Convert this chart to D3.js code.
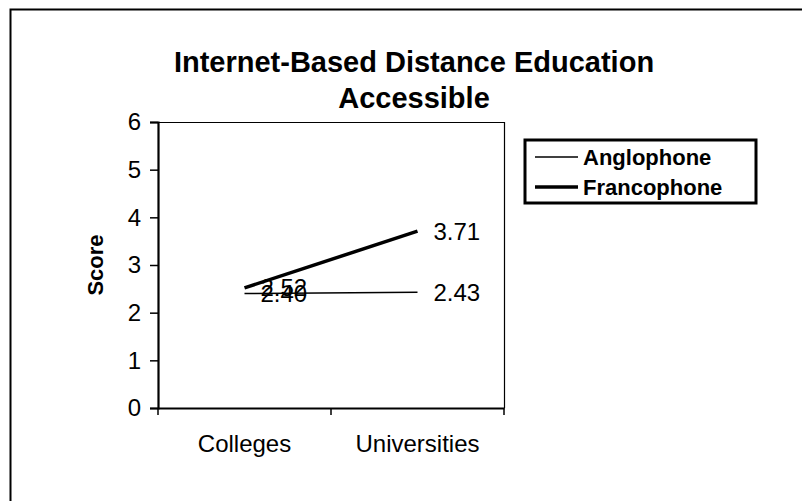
<!DOCTYPE html>
<html><head><meta charset="utf-8">
<script src="https://cdn.jsdelivr.net/npm/d3@7"></script>
<style>body{margin:0;background:#fff}svg{display:block;font-family:"Liberation Sans",Arial,sans-serif}</style>
</head><body>
<svg id="c" width="802" height="501"></svg>
<script>
const categories = ["Colleges", "Universities"];
const seriesNames = ["Anglophone", "Francophone"];
const anglophone = [2.40, 2.43];
const francophone = [2.52, 3.71];
const yTicks = [0, 1, 2, 3, 4, 5, 6];
const labelsA = ["2.40", "2.43"];
const labelsF = ["2.52", "3.71"];

const svg = d3.select("#c");
const L = 158, R = 504, T = 122, B = 408;

// outer border
svg.append("path").attr("d", `M10.5,505 V9.5 H810`).attr("fill","none").attr("stroke","#000").attr("stroke-width",2);

const x = d3.scaleBand().domain(categories).range([L, R]);
const y = d3.scaleLinear().domain([0, 6]).range([B, T]);

// plot frame top/right
svg.append("path").attr("d", `M${L},${T+0.5} H${R+0.5} V${B}`).attr("fill","none").attr("stroke","#000").attr("stroke-width",1.2);

// y axis
const ya = svg.append("g").attr("transform", `translate(${L},0)`)
  .call(d3.axisLeft(y).tickValues(yTicks).tickSize(8).tickPadding(9).tickFormat(d3.format("d")));
ya.select(".domain").attr("stroke-width", 2.2);
ya.selectAll(".tick line").attr("stroke-width", 1.5);
ya.selectAll("text").attr("font-size", 24).attr("font-family","Liberation Sans, Arial, sans-serif").attr("fill","#000");

// x axis
const xa = svg.append("g").attr("transform", `translate(0,${B})`)
  .call(d3.axisBottom(x).tickSize(0).tickPadding(27));
xa.select(".domain").attr("stroke-width", 2.2);
xa.selectAll("text").attr("font-size", 24).attr("font-family","Liberation Sans, Arial, sans-serif").attr("fill","#000");
// category boundary ticks
const bounds = [L, x(categories[1]), R];
xa.selectAll(".bt").data(bounds).enter().append("line")
  .attr("x1", d => d).attr("x2", d => d).attr("y1", 0).attr("y2", 7).attr("stroke","#000").attr("stroke-width",1.5);

const cx = c => x(c) + x.bandwidth() / 2;
const line = d3.line().x((d, i) => cx(categories[i])).y(d => y(d));

svg.append("path").datum(anglophone).attr("d", line).attr("fill","none").attr("stroke","#000").attr("stroke-width",1.5);
svg.append("path").datum(francophone).attr("d", line).attr("fill","none").attr("stroke","#000").attr("stroke-width",3.5);

function addLabels(vals, labs) {
  svg.selectAll(null).data(vals).enter().append("text")
    .attr("x", (d, i) => cx(categories[i]) + 16)
    .attr("y", d => y(d))
    .attr("dy", "0.35em")
    .attr("font-size", 24).attr("fill", "#000")
    .text((d, i) => labs[i]);
}
addLabels(anglophone, labelsA);
addLabels(francophone, labelsF);

// title
const title = svg.append("text").attr("text-anchor","middle").attr("font-weight","bold").attr("font-size",29).attr("fill","#000");
title.append("tspan").attr("x", 414).attr("y", 72).text("Internet-Based Distance Education");
title.append("tspan").attr("x", 414).attr("y", 108).text("Accessible");

// y label
svg.append("text").attr("transform", `translate(103,${(T+B)/2}) rotate(-90)`)
  .attr("text-anchor","middle").attr("font-weight","bold").attr("font-size",22).attr("fill","#000").text("Score");

// legend
const lg = svg.append("g");
lg.append("rect").attr("x", 525).attr("y", 140).attr("width", 231).attr("height", 63)
  .attr("fill","#fff").attr("stroke","#000").attr("stroke-width",3);
const widths = [1.5, 3.5];
seriesNames.forEach((n, i) => {
  const yy = 157 + i * 30;
  lg.append("line").attr("x1", 535).attr("x2", 578).attr("y1", yy).attr("y2", yy).attr("stroke","#000").attr("stroke-width", widths[i]);
  lg.append("text").attr("x", 583).attr("y", yy).attr("dy","0.35em").attr("font-weight","bold").attr("font-size",22).attr("fill","#000").text(n);
});
</script>
</body></html>
